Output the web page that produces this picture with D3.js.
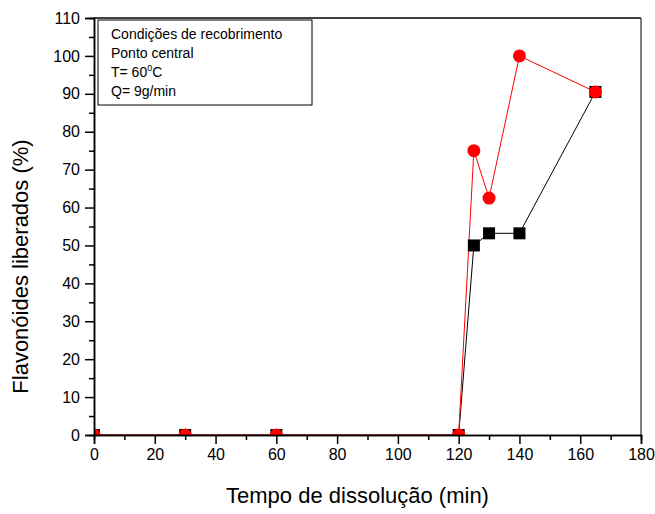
<!DOCTYPE html>
<html>
<head>
<meta charset="utf-8">
<script src="https://cdn.jsdelivr.net/npm/d3@7"></script>
<style>
  body { margin: 0; background: #fff; }
  svg { font-family: Arial, "Liberation Sans", sans-serif; }
</style>
</head>
<body>
<div id="chart"></div>
<script>
// data
const times = [0, 30, 60, 120, 125, 130, 140, 165];
const seriesSquares = [0, 0, 0, 0, 50, 53.2, 53.2, 90.5];
const seriesCircles = [0, 0, 0, 0, 75, 62.5, 100, 90.5];
const xTicks = [0, 20, 40, 60, 80, 100, 120, 140, 160, 180];
const yTicks = [0, 10, 20, 30, 40, 50, 60, 70, 80, 90, 100, 110];
const legendLines = ["Condições de recobrimento", "Ponto central", "T= 60°C", "Q= 9g/min"];

const W = 655, H = 514;
const margin = { top: 18, right: 14, bottom: 79, left: 94 };
const width = W - margin.left - margin.right;
const height = H - margin.top - margin.bottom;

const root = d3.select("#chart").append("svg")
    .attr("width", W).attr("height", H);
const svg = root.append("g")
    .attr("transform", `translate(${margin.left},${margin.top})`);

const x = d3.scaleLinear().domain([0, 180]).range([0, width]);
const y = d3.scaleLinear().domain([0, 110]).range([height, 0]);

svg.append("clipPath").attr("id", "clip")
    .append("rect").attr("width", width).attr("height", height);

// frame: top and right
svg.append("line").attr("x1", 0).attr("x2", width).attr("y1", 0).attr("y2", 0)
    .attr("stroke", "#000").attr("stroke-width", 1.5);
svg.append("line").attr("x1", width).attr("x2", width).attr("y1", 0).attr("y2", height)
    .attr("stroke", "#555").attr("stroke-width", 1.5);

// data
const sq = times.map((t, i) => ({ t, v: seriesSquares[i] }));
const ci = times.map((t, i) => ({ t, v: seriesCircles[i] }));
const line = d3.line().x(d => x(d.t)).y(d => y(d.v));
const plot = svg.append("g").attr("clip-path", "url(#clip)");

plot.append("path").datum(sq).attr("fill", "none").attr("stroke", "#000")
    .attr("stroke-width", 1).attr("d", line);
plot.append("path").datum(ci).attr("fill", "none").attr("stroke", "#ff0000")
    .attr("stroke-width", 1).attr("d", line);

plot.selectAll(".sq").data(sq).enter().append("rect")
    .attr("x", d => x(d.t) - 6).attr("y", d => y(d.v) - 6)
    .attr("width", 12).attr("height", 12).attr("fill", "#000");
plot.selectAll(".ci").data(ci).enter().append("circle")
    .attr("cx", d => x(d.t)).attr("cy", d => y(d.v)).attr("r", 6.5)
    .attr("fill", "#ff0000");

// axes
svg.append("g").attr("transform", `translate(0,${height})`)
    .call(d3.axisBottom(x).tickValues(xTicks).tickSize(9).tickPadding(5));
svg.append("g").attr("transform", `translate(0,${height})`)
    .call(d3.axisBottom(x).tickValues(d3.range(10, 180, 20)).tickSize(5).tickFormat(""));
svg.append("g")
    .call(d3.axisLeft(y).tickValues(yTicks).tickSize(9).tickPadding(5));
svg.append("g")
    .call(d3.axisLeft(y).tickValues(d3.range(5, 110, 10)).tickSize(5).tickFormat(""));

svg.selectAll(".domain").attr("stroke-width", 1.5);
svg.selectAll(".tick line").attr("stroke-width", 1.5);
svg.selectAll(".tick text").style("font-size", "16px")
    .style("font-family", "Arial, 'Liberation Sans', sans-serif").attr("fill", "#000");

// labels
svg.append("text")
    .attr("x", width / 2 - 10).attr("y", height + 68)
    .attr("text-anchor", "middle").style("font-size", "22px")
    .text("Tempo de dissolução (min)");
svg.append("text")
    .attr("transform", "rotate(-90)")
    .attr("x", -(height / 2 + 40)).attr("y", -66)
    .attr("text-anchor", "middle").style("font-size", "22px")
    .text("Flavonóides liberados (%)");

// legend box
const lg = svg.append("g").attr("transform", "translate(4,2)");
lg.append("rect").attr("width", 214).attr("height", 85)
    .attr("fill", "#fff").attr("stroke", "#000").attr("stroke-width", 1);
legendLines.forEach((s, i) => {
    const t = lg.append("text").attr("x", 13).attr("y", 19 + i * 19)
        .style("font-size", "14px");
    if (s.includes("°")) {
        t.append("tspan").text("T= 60");
        t.append("tspan").attr("dy", -6).style("font-size", "9px").text("0");
        t.append("tspan").attr("dy", 6).text("C");
    } else {
        t.text(s);
    }
});
</script>
</body>
</html>
